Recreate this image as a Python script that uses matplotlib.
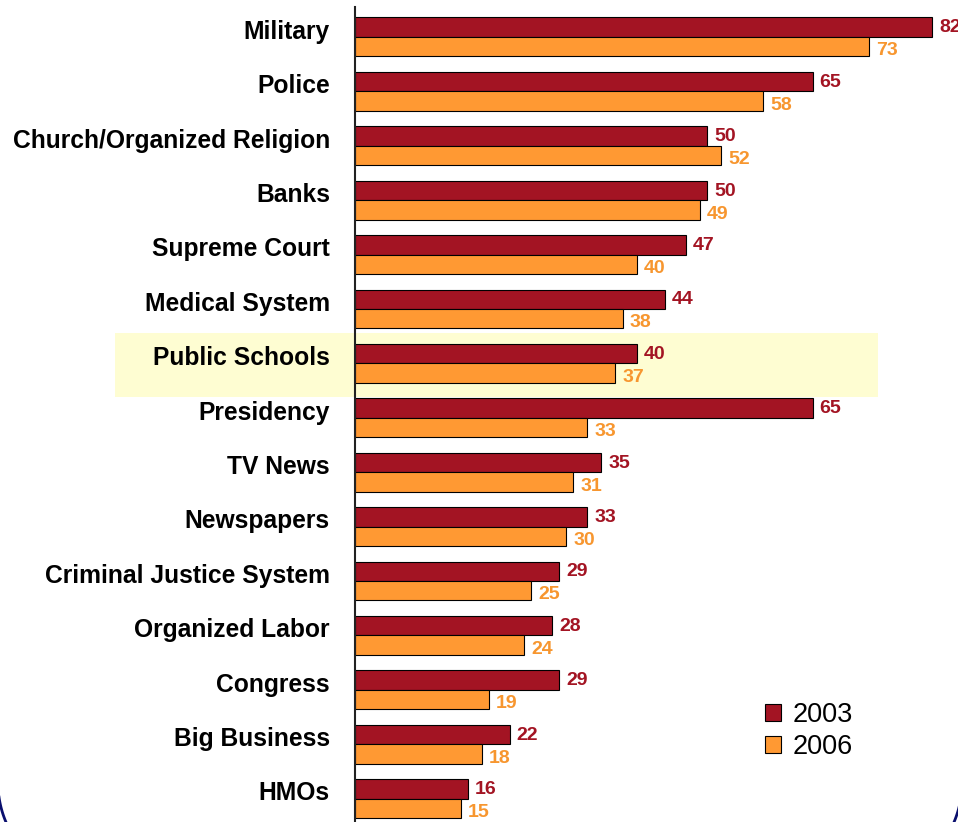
import matplotlib.pyplot as plt
import numpy as np
from matplotlib.patches import Rectangle
from matplotlib.lines import Line2D

# data
categories = ["Military", "Police", "Church/Organized Religion", "Banks",
              "Supreme Court", "Medical System", "Public Schools", "Presidency",
              "TV News", "Newspapers", "Criminal Justice System", "Organized Labor",
              "Congress", "Big Business", "HMOs"]
vals_2003 = [82, 65, 50, 50, 47, 44, 40, 65, 35, 33, 29, 28, 29, 22, 16]
vals_2006 = [73, 58, 52, 49, 40, 38, 37, 33, 31, 30, 25, 24, 19, 18, 15]

red = "#A31423"
orange = "#FF9933"
red_txt = "#A31423"
orange_txt = "#F7962F"

plt.rcParams["font.family"] = ["Liberation Sans", "DejaVu Sans"]

W, H = 958, 822
fig = plt.figure(figsize=(W / 100, H / 100), dpi=100)

ax = fig.add_axes([355 / W, 0, (W - 355) / W, 815 / H])
ax.patch.set_visible(False)

# highlight band behind "Public Schools"
ax.add_patch(Rectangle((115 / W, 1 - 397 / H), (878 - 115) / W, 64 / H,
                       transform=fig.transFigure, facecolor="#FEFDD2",
                       edgecolor="none", zorder=0, clip_on=False))

# rounded frame corners peeking in at the bottom (pixel coords, y up)
r = 100
for cx, t0, t1 in [(98, np.pi, 1.5 * np.pi), (862, 1.5 * np.pi, 2 * np.pi)]:
    t = np.linspace(t0, t1, 60)
    fig.add_artist(Line2D((cx + r * np.cos(t)) / W, (39 + r * np.sin(t)) / H,
                          transform=fig.transFigure, color="#0A0F6E", linewidth=2))

y = np.arange(len(categories))
h = 0.358
ax.barh(y - h / 2, vals_2003, height=h, color=red, edgecolor="black",
        linewidth=0.8, label="2003", zorder=2)
ax.barh(y + h / 2, vals_2006, height=h, color=orange, edgecolor="black",
        linewidth=0.8, label="2006", zorder=2)

for i, (a, b) in enumerate(zip(vals_2003, vals_2006)):
    ax.annotate(str(a), (a, i - h / 2), xytext=(5, -0.5), textcoords="offset points",
                ha="left", va="center", color=red_txt, fontsize=14,
                fontweight="bold", annotation_clip=False, zorder=3)
    ax.annotate(str(b), (b, i + h / 2), xytext=(5, -3), textcoords="offset points",
                ha="left", va="center", color=orange_txt, fontsize=14,
                fontweight="bold", annotation_clip=False, zorder=3)

ax.set_xlim(0, 603 / 7.04)
ax.set_ylim(14.43, -0.551)

ax.set_yticks(y - 0.14)
ax.set_yticklabels(categories, fontsize=17.7, fontweight="bold")
ax.tick_params(axis="y", length=0, pad=18)
ax.set_xticks([])

for s in ["top", "right", "bottom"]:
    ax.spines[s].set_visible(False)
ax.spines["left"].set_linewidth(1.5)
ax.spines["left"].set_color("#222222")
ax.spines["left"].set_zorder(4)

ax.legend(loc="upper left", bbox_to_anchor=((765 - 355) / 603, 1 - (702 - 7) / 815),
          frameon=False, fontsize=19.5, handlelength=0.6, handleheight=0.6,
          handletextpad=0.42, labelspacing=0.23, borderpad=0, borderaxespad=0)

fig.savefig("out.png", dpi=100)
